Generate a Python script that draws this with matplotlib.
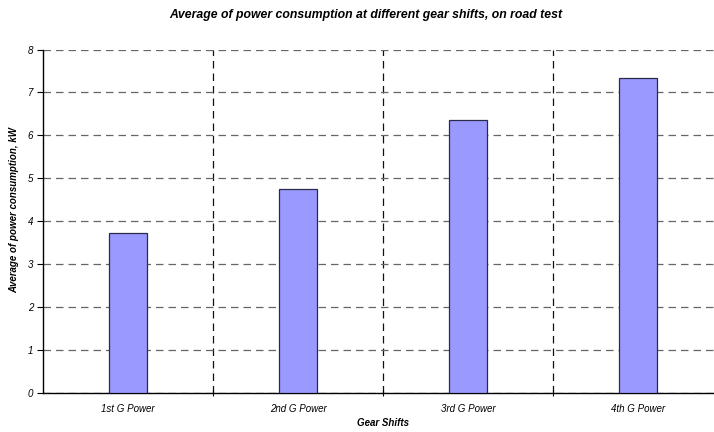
import numpy as np
import matplotlib
matplotlib.use("Agg")
import matplotlib.pyplot as plt

categories = ["1st G Power", "2nd G Power", "3rd G Power", "4th G Power"]
power_kw = [3.72, 4.74, 6.36, 7.34]
y_ticks = [0, 1, 2, 3, 4, 5, 6, 7, 8]

plt.rcParams['font.family'] = ['Liberation Sans', 'DejaVu Sans']

fig = plt.figure(figsize=(7.14, 4.32), dpi=100)
# plot area runs a little past the right edge, like the original export
ax = fig.add_axes([43 / 714, 39 / 432, 680 / 714, 343.5 / 432])

x = np.arange(len(categories))
ax.bar(x, power_kw, width=0.225, color="#9999FF", edgecolor="#2a2a4a",
       linewidth=0.9, zorder=3)

ax.set_xlim(-0.5, len(categories) - 0.5)
ax.set_ylim(0, 8)
ax.set_yticks(y_ticks)
ax.set_yticklabels([str(t) for t in y_ticks], fontsize=7, style="italic")

# category labels in the middle, ticks/grid on the boundaries
ax.set_xticks(x)
ax.set_xticklabels(categories, fontsize=7, style="italic")
ax.tick_params(axis="x", length=0, pad=8)
ax.set_xticks(np.arange(0.5, len(categories) - 0.5, 1), minor=True)
ax.tick_params(axis="x", which="minor", length=4, direction="inout", width=0.8)
ax.tick_params(axis="y", length=4, direction="out", width=0.8, pad=3)

ax.grid(axis="y", which="major", color="#666666", linestyle=(0, (6, 4)), linewidth=0.9, zorder=0)
ax.grid(axis="x", which="minor", color="#111111", linestyle=(0, (6, 4)), linewidth=0.9, zorder=0)

ax.spines["top"].set_visible(False)
ax.spines["right"].set_visible(False)
ax.spines["left"].set_linewidth(1.0)
ax.spines["bottom"].set_linewidth(1.0)

ax.set_xlabel("Gear Shifts", fontsize=7, style="italic", fontweight="bold", labelpad=3)
ax.set_ylabel("Average of power consumption, kW", fontsize=7, style="italic",
              fontweight="bold")
ax.yaxis.set_label_coords(-0.035, 0.533)
fig.text(0.513, 0.965, "Average of power consumption at different gear shifts, on road test",
         ha="center", va="center", fontsize=8.8, style="italic", fontweight="bold")

fig.savefig("out.png", dpi=100)
